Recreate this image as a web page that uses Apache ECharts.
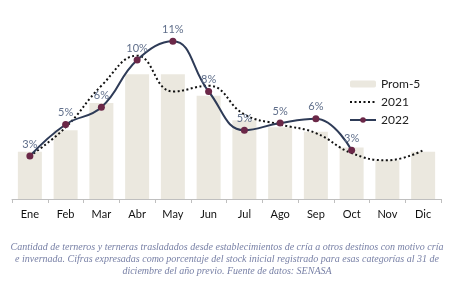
<!DOCTYPE html>
<html>
<head>
<meta charset="utf-8">
<script src="https://cdn.jsdelivr.net/npm/echarts@6/dist/echarts.min.js"></script>
<style>
    html, body {margin: 0; padding: 0; background: #fff;}
    #chart {width: 450px; height: 289px;}
</style>
</head>
<body>
<div id="chart"></div>
<script>
'use strict'

var months = ['Ene', 'Feb', 'Mar', 'Abr', 'May', 'Jun', 'Jul', 'Ago', 'Sep', 'Oct', 'Nov', 'Dic'];
// valores en % del stock inicial
var prom5 = [3.3, 4.8, 6.7, 8.7, 8.7, 7.2, 5.5, 5.0, 4.7, 3.6, 2.7, 3.3];
var y2021 = [3.0, 5.0, 7.9, 10.0, 7.5, 7.9, 5.9, 5.2, 4.6, 3.2, 2.7, 3.4];
var y2022 = [3.0, 5.2, 6.4, 9.7, 11.0, 7.5, 4.8, 5.3, 5.6, 3.4];

var caption = 'Cantidad de terneros y terneras trasladados desde establecimientos de cría a otros destinos con motivo cría\n' +
    'e invernada. Cifras expresadas como porcentaje del stock inicial registrado para esas categorías al 31 de\n' +
    'diciembre del año previo. Fuente de datos: SENASA';

var myChart = echarts.init(document.getElementById('chart'));

var option = {
    animation: false,
    graphic: [{
        type: 'text',
        x: 227,
        y: 241,
        style: {
            text: caption,
            textAlign: 'center',
            font: 'italic 10px "Liberation Serif"',
            lineHeight: 12,
            fill: '#7880a6'
        }
    }],
    legend: {
        orient: 'vertical',
        left: 344,
        top: 73,
        itemWidth: 26,
        itemHeight: 7,
        itemGap: 6,
        textStyle: {fontFamily: 'Lato', fontSize: 12, color: '#222'},
        data: [
            'Prom-5',
            {name: '2021', itemStyle: {opacity: 0}},
            '2022'
        ]
    },
    grid: {left: 12, right: 9, top: 27, bottom: 90},
    xAxis: {
        type: 'category',
        data: months,
        axisLine: {lineStyle: {color: '#bfbfbf'}},
        axisTick: {show: true, length: 4, lineStyle: {color: '#bfbfbf'}},
        axisLabel: {fontFamily: 'Lato', fontSize: 11, color: '#111', margin: 10}
    },
    yAxis: {
        type: 'value',
        min: 0,
        max: 12,
        show: false,
        splitLine: {show: false}
    },
    series: [
        {
            name: 'Prom-5',
            type: 'bar',
            data: prom5,
            barWidth: 24,
            itemStyle: {color: '#ebe8df'}
        },
        {
            name: '2021',
            type: 'line',
            data: y2021,
            smooth: 0.45,
            symbol: 'none',
            lineStyle: {color: '#111', width: 2, type: [2, 2.5]},
            itemStyle: {color: '#111'}
        },
        {
            name: '2022',
            type: 'line',
            data: y2022,
            smooth: 0.45,
            symbol: 'circle',
            symbolSize: 7,
            lineStyle: {color: '#2e3b57', width: 2},
            itemStyle: {color: '#6b2848'},
            label: {
                show: true,
                position: 'top',
                distance: 3,
                fontFamily: 'Lato',
                fontSize: 11,
                color: '#5f6e8a',
                formatter: function (p) {
                    return Math.round(p.value) + '%';
                }
            }
        }
    ]
};

myChart.setOption(option);
</script>
</body>
</html>
